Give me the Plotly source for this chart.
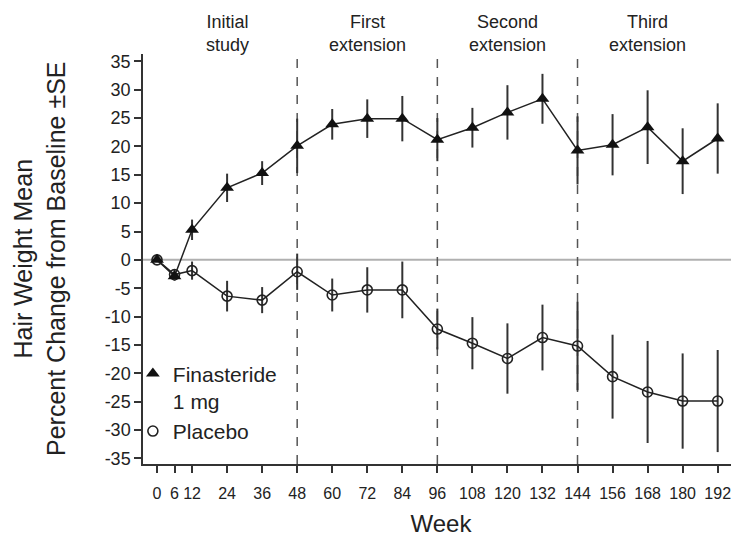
import plotly.graph_objects as go

# ---- data ----
weeks = [0, 6, 12, 24, 36, 48, 60, 72, 84, 96, 108, 120, 132, 144, 156, 168, 180, 192]
finasteride = [0, -2.9, 5.3, 12.7, 15.3, 20.1, 23.9, 24.9, 24.9, 21.2, 23.3, 26.0, 28.4, 19.3, 20.3, 23.4, 17.4, 21.4]
finasteride_se = [0, 0.8, 1.8, 2.5, 2.1, 4.8, 2.7, 3.4, 4.0, 3.8, 3.5, 4.8, 4.4, 6.0, 5.4, 6.5, 5.8, 6.2]
placebo = [0, -2.6, -1.9, -6.4, -7.1, -2.1, -6.2, -5.3, -5.3, -12.2, -14.7, -17.4, -13.7, -15.2, -20.6, -23.3, -24.9, -24.9]
placebo_se = [0, 0.8, 1.6, 2.7, 2.3, 3.2, 2.9, 4.0, 5.0, 3.6, 4.6, 6.2, 5.8, 7.8, 7.4, 9.0, 8.4, 9.0]

x_tick_labels = [str(w) for w in weeks]
y_tick_vals = [35, 30, 25, 20, 15, 10, 5, 0, -5, -10, -15, -20, -25, -30, -35]
y_tick_text = ["35", "30", "25", "20", "15", "10", "5", "0", "-5", "-10", "-15", "-20", "-25", "-30", "-35"]

phase_bounds = [48, 96, 144]
phase_centers = [24, 72, 120, 168]
phase_labels = ["Initial<br>study", "First<br>extension", "Second<br>extension", "Third<br>extension"]

series_names = ["Finasteride<br>1 mg", "Placebo"]

FONT = "Liberation Sans, Arial, sans-serif"
INK = "#222222"

fig = go.Figure()

fig.add_trace(go.Scatter(
    x=weeks, y=placebo, mode="lines+markers", showlegend=False,
    line=dict(color=INK, width=1.5),
    marker=dict(symbol="circle-open", size=10, color=INK, line=dict(width=1.6)),
    error_y=dict(type="data", array=placebo_se, visible=True, thickness=2, width=0, color="#333333"),
))
fig.add_trace(go.Scatter(
    x=weeks, y=finasteride, mode="lines+markers", showlegend=False,
    line=dict(color=INK, width=1.5),
    marker=dict(symbol="triangle-up", size=12, color="#111111"),
    error_y=dict(type="data", array=finasteride_se, visible=True, thickness=2, width=0, color="#333333"),
))

# legend-only entries
fig.add_trace(go.Scatter(x=[None], y=[None], mode="markers", name=series_names[0],
                         marker=dict(symbol="triangle-up", size=12, color="#111111")))
fig.add_trace(go.Scatter(x=[None], y=[None], mode="markers", name=series_names[1],
                         marker=dict(symbol="circle-open", size=10, color=INK, line=dict(width=1.6))))

# zero line
fig.add_hline(y=0, line=dict(color="#b0b0b0", width=2), layer="below")
# phase boundaries
for b in phase_bounds:
    fig.add_vline(x=b, line=dict(color="#555555", width=1.5, dash="dash"), layer="below")

for c, t in zip(phase_centers, phase_labels):
    fig.add_annotation(x=c, y=1, xref="x", yref="paper", text=t, showarrow=False,
                       yanchor="bottom", yshift=-3, font=dict(size=18, color=INK, family=FONT))

fig.add_annotation(x=0, y=0.5, xref="paper", yref="paper",
                   text="Hair Weight Mean<br>Percent Change from Baseline ±SE",
                   textangle=-90, showarrow=False, xanchor="center", yanchor="middle",
                   xshift=-104, font=dict(size=25, color=INK, family=FONT))

fig.update_layout(
    width=731, height=533,
    margin=dict(l=135, r=0, t=46, b=77),
    paper_bgcolor="white", plot_bgcolor="white",
    font=dict(family=FONT, color=INK),
    showlegend=True,
    legend=dict(x=-0.017, y=0.27, xanchor="left", yanchor="top", bgcolor="rgba(0,0,0,0)",
                font=dict(size=21, color=INK, family=FONT), itemwidth=30, valign="top",
                tracegroupgap=0),
    xaxis=dict(range=[-4.8, 199.3], tickvals=weeks, ticktext=x_tick_labels,
               showgrid=False, zeroline=False, showline=True, linecolor="#333333", linewidth=1.5,
               ticks="outside", ticklen=7, tickwidth=1.5, tickcolor="#333333",
               ticklabelstandoff=7,
               tickfont=dict(size=16, color=INK),
               title=dict(text="Week", font=dict(size=24, color=INK), standoff=14)),
    yaxis=dict(range=[-36, 36.3], tickvals=y_tick_vals, ticktext=y_tick_text,
               showgrid=False, zeroline=False, showline=True, linecolor="#333333", linewidth=1.5,
               ticks="outside", ticklen=7, tickwidth=1.5, tickcolor="#333333",
               tickfont=dict(size=18, color=INK)),
)

fig.write_html("out.html")
